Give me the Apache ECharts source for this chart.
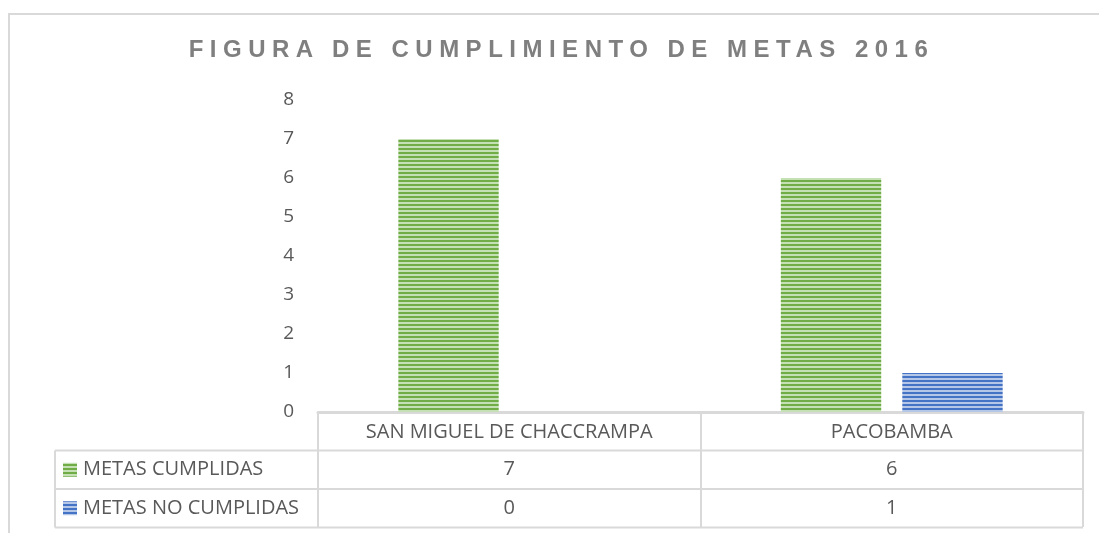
<!DOCTYPE html>
<html>
<head>
<meta charset="utf-8">
<script src="https://cdn.jsdelivr.net/npm/echarts@6/dist/echarts.min.js"></script>
<style>
  html, body { margin: 0; padding: 0; background: #fff; }
  #wrap { position: relative; width: 1099px; height: 533px; }
  #chart { width: 1099px; height: 533px; }
  #title {
    position: absolute; left: 0; top: 35px; width: 1099px;
    text-align: center; padding-left: 24px; box-sizing: border-box;
    font-family: "Liberation Sans", Arial, sans-serif; font-weight: bold;
    font-size: 24px; letter-spacing: 6.5px; color: #7f7f7f;
  }
</style>
</head>
<body>
<div id="wrap">
  <div id="chart"></div>
  <div id="title">FIGURA DE CUMPLIMIENTO DE METAS 2016</div>
</div>
<script>
// datos
const categories = ['SAN MIGUEL DE CHACCRAMPA', 'PACOBAMBA']
const seriesNames = ['METAS CUMPLIDAS', 'METAS NO CUMPLIDAS']
const metasCumplidas = [7, 6]
const metasNoCumplidas = [0, 1]
const yMin = 0
const yMax = 8
const yStep = 1

const font = '"Open Sans", "Noto Sans", sans-serif'
const textColor = '#595959'
const lineColor = '#d9d9d9'

// textura de franjas horizontales
const stripe = (dark, light) => {
  const c = document.createElement('canvas')
  c.width = 4
  c.height = 4
  const ctx = c.getContext('2d')
  ctx.fillStyle = light
  ctx.fillRect(0, 0, 4, 4)
  ctx.fillStyle = dark
  ctx.fillRect(0, 0, 4, 2)
  return { image: c, repeat: 'repeat' }
}
const greenFill = stripe('#70ad47', '#c5e0b4')
const blueFill = stripe('#4472c4', '#b4c7e7')

const chart = echarts.init(document.getElementById('chart'))

const gridLeft = 318
const gridRight = 16
const gridTop = 100
const gridBottom = 121

chart.setOption({
  animation: false,
  grid: { left: gridLeft, right: gridRight, top: gridTop, bottom: gridBottom, outerBoundsMode: 'none' },
  xAxis: {
    type: 'category',
    data: categories,
    axisLine: { lineStyle: { color: lineColor, width: 3 } },
    axisTick: { show: true, length: 115, lineStyle: { color: lineColor, width: 2 } },
    axisLabel: { margin: 10, fontSize: 20, color: textColor, fontFamily: font }
  },
  yAxis: {
    type: 'value',
    min: yMin,
    max: yMax,
    interval: yStep,
    axisLine: { show: false },
    axisTick: { show: false },
    splitLine: { show: false },
    axisLabel: { margin: 24, fontSize: 19, color: textColor, fontFamily: font }
  },
  series: [
    {
      name: seriesNames[0],
      type: 'bar',
      data: metasCumplidas,
      barGap: '21%',
      barCategoryGap: '42%',
      itemStyle: { color: greenFill }
    },
    {
      name: seriesNames[1],
      type: 'bar',
      data: metasNoCumplidas,
      itemStyle: { color: blueFill }
    }
  ]
})

// tabla de datos debajo del eje
const axisY = chart.convertToPixel({ yAxisIndex: 0 }, 0)
const rightX = 1099 - gridRight
const tableLeft = 55
const rowH = 38.5
const rows = [metasCumplidas, metasNoCumplidas]
const fills = [greenFill, blueFill]
const elements = [
  {
    type: 'rect',
    shape: { x: 9, y: 14, width: 1200, height: 600 },
    style: { fill: null, stroke: lineColor, lineWidth: 2 },
    silent: true
  },
  {
    type: 'line',
    shape: { x1: tableLeft, y1: axisY + rowH, x2: tableLeft, y2: axisY + rowH * 3 },
    style: { stroke: lineColor, lineWidth: 2 }
  }
]
for (let r = 1; r <= 3; r++) {
  elements.push({
    type: 'line',
    shape: { x1: tableLeft, y1: axisY + rowH * r, x2: rightX, y2: axisY + rowH * r },
    style: { stroke: lineColor, lineWidth: 2 }
  })
}
rows.forEach((vals, i) => {
  const cy = axisY + rowH * (i + 1) + rowH / 2
  elements.push({
    type: 'rect',
    shape: { x: 63, y: cy - 7, width: 14, height: 14 },
    style: { fill: fills[i] }
  })
  elements.push({
    type: 'text',
    x: 83,
    y: cy,
    style: { text: seriesNames[i], font: '20px ' + font, fill: textColor, verticalAlign: 'middle' }
  })
  vals.forEach((v, j) => {
    const cx = chart.convertToPixel({ xAxisIndex: 0 }, categories[j])
    elements.push({
      type: 'text',
      x: cx,
      y: cy,
      style: { text: String(v), font: '20px ' + font, fill: textColor, align: 'center', verticalAlign: 'middle' }
    })
  })
})
chart.setOption({ graphic: elements })
</script>
</body>
</html>
